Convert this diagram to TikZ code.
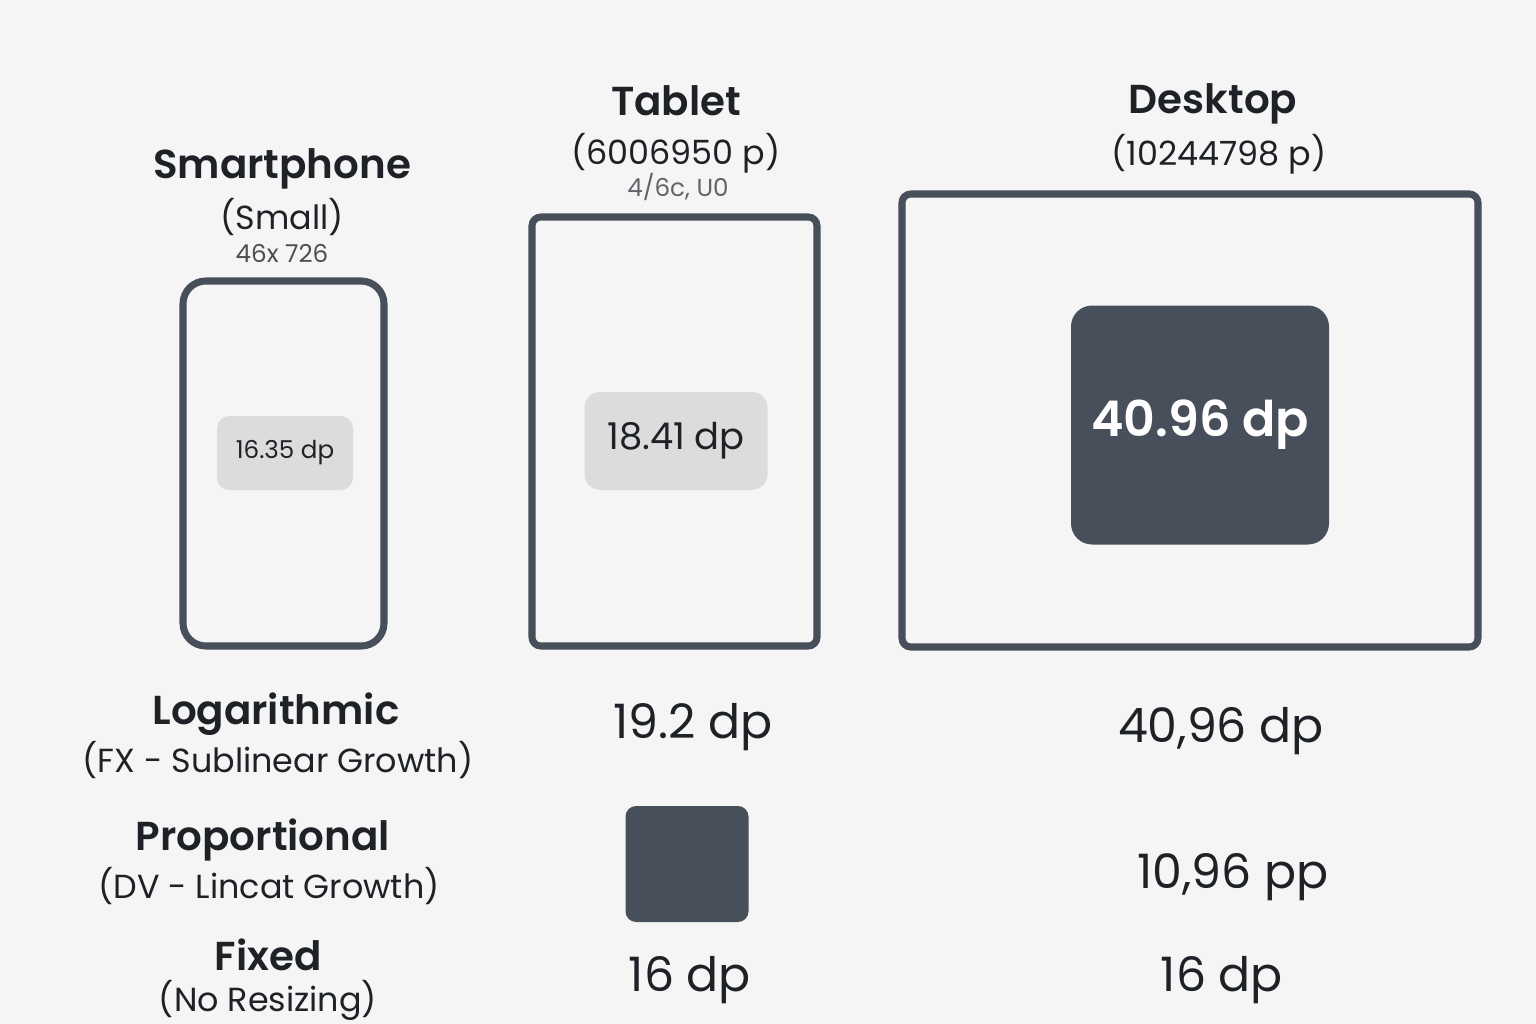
\documentclass[tikz,border=0pt]{standalone}
\usepackage{fontspec}
\setmainfont{Poppins}[BoldFont={Poppins SemiBold}]
\usepackage{tikz}
\usetikzlibrary{arrows.meta, positioning, calc}
\definecolor{bgpaper}{HTML}{F5F5F5}
\definecolor{slate}{HTML}{464F5A}
\definecolor{inkdark}{HTML}{1E2227}
\definecolor{chipgray}{HTML}{DCDCDC}
\begin{document}
\begin{tikzpicture}[x=0.02cm, y=-0.02cm,
  title/.style={font=\fontsize{23}{26}\selectfont\bfseries, text=inkdark},
  sub/.style={font=\fontsize{19}{22}\selectfont, text=inkdark},
  tiny/.style={font=\fontsize{14}{16}\selectfont, text=inkdark!80},
  val/.style={font=\fontsize{27}{30}\selectfont, text=inkdark},
  frame/.style={draw=slate, line width=4pt}]
\useasboundingbox[fill=bgpaper] (0,0) rectangle (1536,1024);
% three device frames, each with the size of the same element inside
\draw[frame, rounded corners=13pt] (183,281) rectangle (384,646);
\draw[frame, rounded corners=5pt] (532,217) rectangle (817,646);
\draw[frame, rounded corners=5pt] (902,194) rectangle (1478,647);
\node[fill=chipgray, rounded corners=7pt, minimum width=136*0.02cm, minimum height=74*0.02cm,
  font=\fontsize{14}{16}\selectfont, text=inkdark] (chipS) at (285,453) {16.35 dp};
\node[fill=chipgray, rounded corners=9pt, minimum width=183*0.02cm, minimum height=98*0.02cm,
  font=\fontsize{21}{24}\selectfont, text=inkdark] (chipT) at (676,441) {18.41 dp};
\node[fill=slate, rounded corners=12pt, minimum width=258*0.02cm, minimum height=239*0.02cm,
  font=\fontsize{28}{32}\selectfont\bfseries, text=white] (chipD) at (1200,425) {40.96 dp};
% device headings
\node[title] (phone) at (282,169) {Smartphone};
\node[sub] (phoneSub) at (282,217) {(Small)};
\node[tiny] (phoneRes) at (282,253) {46x 726};
\node[title] (tablet) at (676,101) {Tablet};
\node[sub] (tabletSub) at (676,153) {(6006950 p)};
\node[tiny, text=inkdark!70] (tabletRes) at (678,187) {4/6c, U0};
\node[title] (desktop) at (1213,104) {Desktop};
\node[sub] (desktopSub) at (1219,154) {(10244798 p)};
% scaling rules, one row each
\node[title] (logRule) at (276,714) {Logarithmic};
\node[sub] (logSub) at (278,760) {(FX - Sublinear Growth)};
\node[val] (logT) at (693,727) {19.2 dp};
\node[val] (logD) at (1221,731) {40,96 dp};
\node[title] (propRule) at (263,840) {Proportional};
\node[sub] (propSub) at (269,886) {(DV - Lincat Growth)};
\node[fill=slate, rounded corners=6pt, minimum width=123*0.02cm, minimum height=116*0.02cm] (propT) at (687,864) {};
\node[val] (propD) at (1233,877) {10,96 pp};
\node[title] (fixRule) at (268,955) {Fixed};
\node[sub] (fixSub) at (268,1000) {(No Resizing)};
\node[val] (fixT) at (690,980) {16 dp};
\node[val] (fixD) at (1222,980) {16 dp};
\end{tikzpicture}
\end{document}
